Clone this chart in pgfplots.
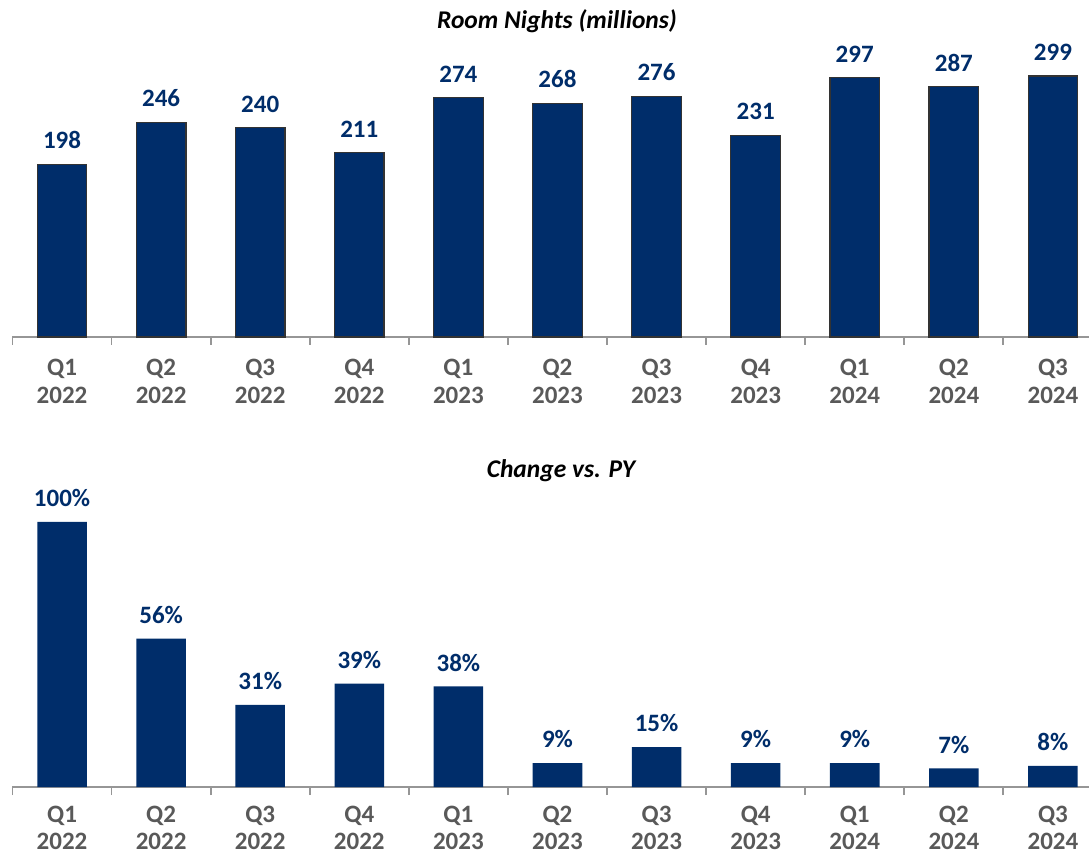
\documentclass[border=0pt]{standalone}
\usepackage{pgfplots}
\pgfplotsset{compat=1.18}
\usepackage{fontspec}
\setmainfont{Carlito}
\definecolor{navy}{RGB}{0,45,106}
\definecolor{axgray}{RGB}{150,150,150}
\definecolor{lblgray}{RGB}{89,89,89}
\pgfplotsset{
  panel/.style={
    scale only axis,
    anchor=south west,
    width=538.25pt,
    xmin=-0.5, xmax=10.364,
    ymin=0,
    axis y line=none,
    axis x line=bottom,
    axis line style={axgray, line width=0.9pt, -},
    x axis line style={-},
    xtick={0,...,10},
    xticklabels={{Q1\\2022},{Q2\\2022},{Q3\\2022},{Q4\\2022},{Q1\\2023},{Q2\\2023},{Q3\\2023},{Q4\\2023},{Q1\\2024},{Q2\\2024},{Q3\\2024}},
    xticklabel style={align=center, font=\fontsize{12.5}{14}\selectfont\bfseries, text=lblgray, inner ysep=0.3pt, yshift=-10.8pt},
    major tick length=0pt,
    minor xtick={-0.5,0.5,...,10.5},
    minor tick length=4pt,
    tick align=outside,
    minor tick style={axgray, line width=0.9pt},
    ybar, bar width=0.5,
    /pgf/number format/assume math mode=true,
    nodes near coords,
    every node near coord/.append style={font=\fontsize{12.5}{14}\selectfont\bfseries, text=navy, yshift=4pt},
    clip=false,
  }
}
\begin{document}
\begin{tikzpicture}
\useasboundingbox (0,0) rectangle (544.5pt,-427.5pt);
\node[font=\fontsize{12.75}{14}\selectfont\bfseries\itshape] at (278.5pt,-10.5pt) {Room Nights (millions)};
\node[font=\fontsize{12.75}{14}\selectfont\bfseries\itshape] at (280.5pt,-235.5pt) {Change vs. PY};
\begin{axis}[panel, at={(6.25pt,-168.5pt)}, height=144pt, ymax=330]
\addplot[fill=navy, draw=black!80, line width=0.6pt] coordinates {
(0,198) (1,246) (2,240) (3,211) (4,274) (5,268) (6,276) (7,231) (8,297) (9,287) (10,299)};
\end{axis}
\begin{axis}[panel, at={(6.25pt,-393.5pt)}, height=145.75pt, ymax=110,
  xticklabel style={font=\fontsize{12.5}{13.5}\selectfont\bfseries, yshift=1.5pt},
  nodes near coords={\pgfmathprintnumber{\pgfplotspointmeta}\%}]
\addplot[fill=navy, draw=none] coordinates {
(0,100) (1,56) (2,31) (3,39) (4,38) (5,9) (6,15) (7,9) (8,9) (9,7) (10,8)};
\end{axis}
\end{tikzpicture}
\end{document}
